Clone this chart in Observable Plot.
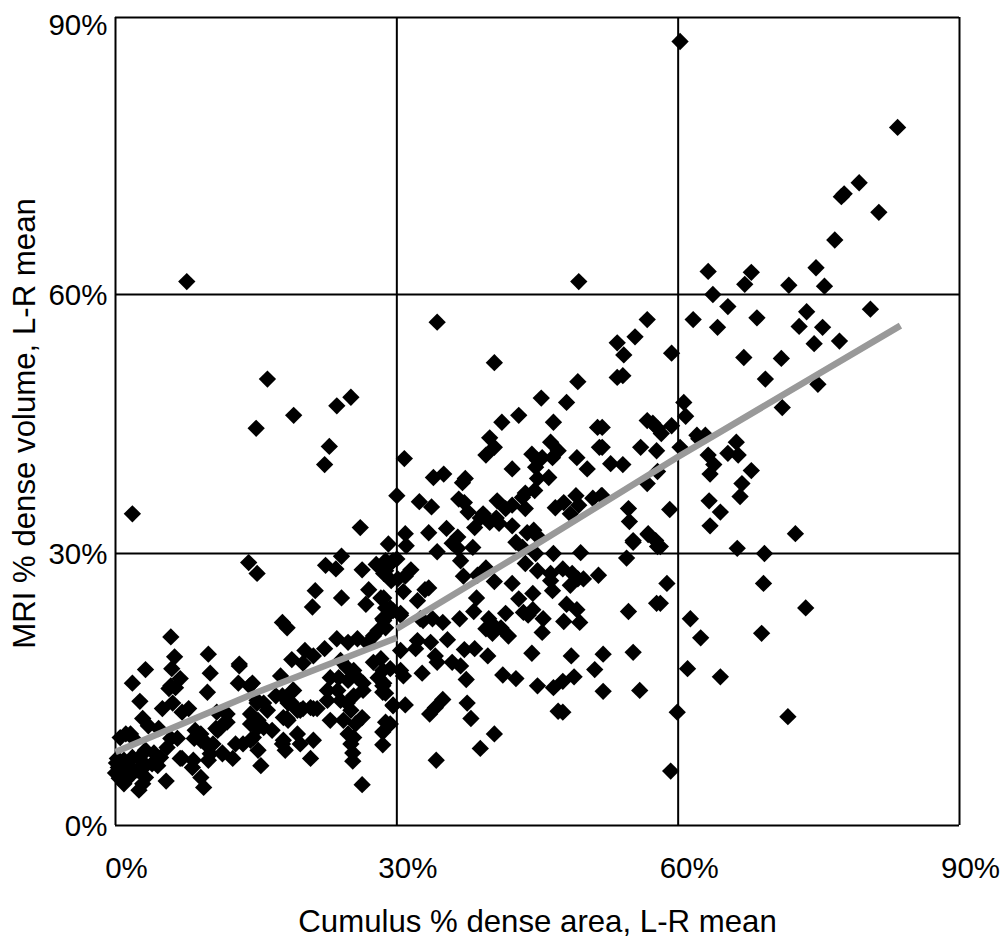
<!DOCTYPE html>
<html><head><meta charset="utf-8">
<script src="https://cdn.jsdelivr.net/npm/d3@7"></script>
<script src="https://cdn.jsdelivr.net/npm/@observablehq/plot@0.6"></script>
<style>html,body{margin:0;padding:0;background:#fff;overflow:hidden}svg{display:block}</style>
</head><body><div id="chart"></div>
<script>
const xTicks = [0, 30, 60, 90];
const yTicks = [0, 30, 60, 90];
const xTitle = "Cumulus % dense area, L-R mean";
const yTitle = "MRI % dense volume, L-R mean";
const trendCumulus = [0, 14.4, 30, 30, 43.3, 60, 83.7];
const trendMri = [8.1, 14.4, 20.7, 21.7, 30, 41.2, 56.4];
const trendPiece = ["below", "below", "below", "above", "above", "above", "above"];

const highPoints = [[60.2,87.4],[83.4,78.1],[7.6,61.4],[49.4,61.4],[77.4,70.6],[77.7,70.9],[79.3,72.1],[81.4,68.9],[76.7,65.9],
[63.2,62.5],[67.8,62.4],[67.1,61.1],[74.7,62.9],[71.8,61],[75.6,60.9],[63.7,60],[65.3,58.6],[73.7,58],[80.5,58.3],[56.7,57.1],[61.6,57.1],[68.4,57.3],[64.2,56.2],[72.9,56.3],[75.4,56.2],[55.4,55.1],[53.5,54.4],[54.2,53],[74.5,54.3],[77.2,54.6],[59.3,53.2],[67,52.7],[71,52.6],[53.5,50.4],[54.1,50.6],[69.3,50.2],[74.9,49.6],[71.1,46.9],[60.6,47.5],[60.8,45.9],[56.7,45.4],[57.3,45.1],[57.8,44.5],[58.2,43.9],[59.3,44.8],[62,43.7],[62.9,43.7],[62.2,43.3],[66.2,42.9],[65.3,41.6],[66.4,41.4],[60.2,42.3],[63.2,41.4],[63.8,40.3],[67.8,39.6],[63.4,39.2],[66.8,38.1],[66.6,36.6],[63.3,36.1],[64.5,34.8],[63.4,33.2],[72.5,32.3],[56,42.3],[57.7,41.9],[52.8,40.4],[54.1,40.3],[51.9,42.3],[51.9,44.6],[57.8,39.5],[56.7,38.1],[51.9,36.7],[54.7,35.2],[54.8,33.7],[59.1,35.1],[56.8,32.3],[57.6,31.5],[55.2,31.5],[66.3,30.6],[69.2,30],[58.1,30.8],
[34.3,56.8],[40.4,52.1],[49.3,49.9],[45.4,48],[48.1,47.5],[43,46],[41.2,45.2],[46.7,45.2],[51.4,44.6],[39.9,43.4],[40.4,42.3],[39.5,41.4],[46.4,42.9],[47.2,41.9],[46.6,41.1],[44.4,41.5],[45,40.8],[45.5,41.1],[44.8,40],[49.2,41.1],[51.6,42.3],[30.8,41],[42.3,39.8],[50.3,39.8],[16.2,50.2],[25.1,48.1],[23.6,47.1],[19,46],[15,44.5],[22.8,42.4],[22.3,40.3],[1.8,34.6],[26.1,33]];

const midPoints = [[33.9,38.8],[35,39.2],[37,38.2],[37.3,38.7],[46.2,38.8],[45,38.7],[44.7,37.3],[43.7,37],[43.4,36.5],[36.6,36.3],[37.2,35.9],[32.4,36],[33.7,35.4],[30,36.7],[40.7,36.1],[37.6,34.8],[42.3,35.6],[41.6,35.2],[43.7,35.2],[46.9,35.3],[47.8,35.9],[48.5,34.6],[49.1,36.7],[49.4,35.6],[50.9,36.4],[51.8,36.7],[39.2,34.6],[39.9,33.6],[38.9,34.1],[40.6,34.1],[40.9,33.5],[42.3,33.2],[38.3,33],[33.4,32.4],[35.3,32.9],[30.9,32.3],[31,30.9],[36.5,31.9],[35.9,31.2],[36.5,30.6],[34.3,30.2],[38.1,30.7],[44.6,32.7],[43.9,32.4],[45,32],[42.7,31.3],[43.4,30.7],[44.8,30],[46.7,30],[49.6,30.1],[55.2,31.3],[56.8,32.2],[57.8,30.8],[29.1,31.1],[24.1,29.7],
[36.8,29.2],[54.5,29.5],[30,29.4],[29.3,28.9],[31.5,28.2],[30.9,27.5],[39.5,28.4],[38.6,27.6],[37.1,27.5],[40.4,26.9],[42.3,26.7],[43.7,28.9],[45,28.1],[46.4,27.8],[46.4,27],[47.7,28.3],[48.7,27.8],[49.3,27.2],[49.9,27.2],[48.5,26.5],[51.5,27.6],[46.6,25.9],[33.4,26.2],[33,26],[30.7,25.8],[32.2,24.8],[57.7,24.5],[54.7,23.6],[38.5,25.1],[43,25],[44.5,25.6],[43.5,23.5],[44.5,23.8],[44,23.2],[48.1,24.4],[49.2,23.8],[47.8,22.5],[49.5,22.4],[45.6,22.8],[45.5,21.3],[38.2,23.6],[36.7,22.8],[39.8,22.8],[41.6,23.4],[39.5,21.7],[40.3,22.1],[41.1,21.8],[41.9,20.9],[40.2,21.2],[34.9,22.4],[33.8,22.8],[32.8,22.6],[32.5,22.8],[35.4,20.5],[33.6,20.2],[32.2,20.4],[32,19.5],[30.4,19.3],[34.1,18.7],[34.3,18],[37.2,19.4],[38.3,19.5],[39.7,18.7],[44.4,19],[48.6,18.7],[52,18.9],[55.2,19.1],[51.1,17.2],[35.9,18],[36.8,17.6],[32.7,16.8],[30.4,17.1],[30.7,16.5],[37.4,16.1],[41.3,16.6],[42.7,16.2],[45,15.4],[46.7,15.2],[47.7,15.9],[48.9,16.4],[52,14.8],[55.9,14.9],[34.9,13.9],[34.1,13],[33.5,12.3],[30.9,13.3],[29.6,13.2],[37.5,13.5],[37.9,11.8],[47.2,12.6],[47.7,12.5],[40.4,10.1],[38.9,8.5],[29.3,11.2],[34.2,7.2],
[58.8,26.7],[69.1,26.7],[73.6,24],[61.3,22.8],[62.4,20.7],[68.9,21.2],[61,17.3],[64.5,16.4],[59.9,12.5],[71.7,12],[59.2,6],[58.1,24.5],
[28.8,29.2],[28.6,27.8],[29.6,29.2],[28.6,25.1],[28.8,24],[29.3,23.5],[30.4,23.2],[28.5,22.8],[28.8,21.8],[29.3,17.3],[28.5,17.1],[28.6,15.7],[28.8,14.6],[29.6,23.7],[30.4,23.4],[29.3,24],[30.1,27.2],[29.4,27],[29.1,28.8],[28.8,28.1]];

const lowPoints = [[18.3,21.8],[17.8,22.4],[14.2,29],[15.1,27.8],[22.4,28.7],[23.5,28.3],[26.3,28.2],[27.8,28.8],[21.3,25.9],[21,24.1],[24.1,25.1],[27,26],[26.7,24.4],[28.3,25.1],[28.6,22.6],[28,21.5],[27.5,20.9],[5.9,20.8],[6.3,18.6],[3.2,17.2],[6,17.3],[1.8,15.7],[6.9,16.2],[6.4,15.2],[5.9,15.4],[2.6,13.7],[9.9,18.9],[10.1,16.8],[9.8,14.7],[13.2,17.8],[13.2,17.6],[13.1,15.7],[14.3,15.4],[17.6,16.5],[18.8,18.3],[20.2,19.3],[22.3,19.5],[21.1,18.7],[20,17.9],[23.6,20.6],[24.8,20.2],[25.8,20.6],[26.9,20.1],[6.1,13.5],[5,12.9],[7.8,12.9],[7.1,12.5],[10.8,12.5],[11.9,12.3],[11.5,11.2],[10.7,10.7],[14.4,12.3],[15.8,13.5],[15.1,13.5],[16.2,12.7],[14.4,11.2],[15.2,10.8],[18.4,13.5],[18.3,11.8],[18.9,14.9],[17.8,14.3],[19.7,12.7],[20.8,13],[21.5,12.9],[2.9,11.8],[3.5,11],[1.6,10.1],[1.1,10.1],[8.5,10.5],[9.1,9.4],[9.8,9],[11.4,7.9],[12.5,7.4],[6.9,7.4],[8.3,7.2],[9.9,7.2],[17.9,9.4],[18.1,8.3],[19.7,9],[21.1,9.4],[20.8,7.4],[15.5,6.6],[25.3,7.1],[26.3,4.5],[9.4,4.2],[5.4,4.9],[2.5,3.9],[2.9,4.6],[28.8,11.4],[28.5,10.3],[28.5,8.9],[29.6,13.3],[27.5,18],[28.3,18.4],[28,16.3],[28.5,15.4],[28.5,14.7],
[24.7,17.4],[25.4,17.1],[24,18.2],[22.9,16.3],[23.8,16.3],[24.8,16],[25.8,16.3],[26.4,15.7],[22.6,14.9],[23.7,14.9],[26.4,14.9],[25.4,14.3],[22.6,13.8],[24,13.8],[24.7,13.5],[25.1,12.7],[26.3,11.9],[25.6,11.2],[24.3,11.6],[22.9,11.6],[24.8,10.1],[25.4,9.7],[25.1,9],[25.3,8],
[20,12.9],[21.1,12.9],[19.4,12.7],[18.7,13.6],[17.9,11.9],[18.4,11.6],[16.7,10.5],[19.4,10.1],[17.8,9],[15.2,11.6],[15.8,10.8],[14.7,9.7],[15.2,8.3],[15.1,13.8],[19,14.9],[17.1,14.3],[14.6,15.7],[5.7,15.1],
[4.6,10.7],[1.8,9.7],[0.5,9.7],[9.1,10.1],[8.4,9.6],[11.2,10.8],[11.9,11.4],[10.9,10.5],[6.6,9.6],[5.5,8.6],[5.9,9.6],[4.1,8],[4.8,7.5],[3.2,8.3],[2.7,7.7],[3.9,6.8],[4.5,6.6],[7.1,7.4],[8.2,6.4],[9.1,5.3],[10.1,7.9],[11.4,8],[12.8,9],[13.6,9],[14.4,9.4],[9.6,9],[10.4,9],
[0.2,7.4],[0.3,6.4],[0.5,5.5],[1.1,5],[1.6,6.4],[0.9,7.2],[1.8,7.5],[2.3,6.1],[3,6.4],[0,5.8],[0.7,6.1],[1.4,5.3],[3.2,5.3],[2.7,7.2],[0.1,6.9],[0.4,5.2],[0.9,4.6],[1.2,5.9],[0.6,6.7]];

const points = [...highPoints, ...midPoints, ...lowPoints];
const font = "Liberation Sans, Arial, sans-serif";
const pct = d => d + "%";

const chart = Plot.plot({
  width: 1004, height: 945,
  marginLeft: 115, marginRight: 45, marginTop: 17, marginBottom: 120,
  style: {background: "#fff", fontFamily: font},
  x: {type: "linear", domain: [0, 90], label: null},
  y: {type: "linear", domain: [0, 30, 60, 90], range: [825, 553, 294, 17], label: null},
  marks: [
    Plot.ruleX(xTicks, {stroke: "#000", strokeWidth: 2}),
    Plot.ruleY(yTicks, {stroke: "#000", strokeWidth: 2}),
    Plot.dot(points, {x: d => d[0], y: d => d[1], symbol: "diamond2", r: 7.8, fill: "#000", stroke: "none"}),
    Plot.line(trendCumulus.map((c, i) => [c, trendMri[i], trendPiece[i]]), {x: d => d[0], y: d => d[1], z: d => d[2], stroke: "#999", strokeWidth: 6.5, strokeLinecap: "butt", strokeLinejoin: "round"}),
    Plot.axisX(xTicks, {tickSize: 0, tickPadding: 32, dx: 11, tickFormat: pct, fontSize: 29.5, fill: "#000", label: null}),
    Plot.axisY([0, 30, 60], {tickSize: 0, tickPadding: 8, dy: 1, tickFormat: pct, fontSize: 29.5, fill: "#000", label: null}),
    Plot.axisY([90], {tickSize: 0, tickPadding: 8, dy: 8, tickFormat: pct, fontSize: 29.5, fill: "#000", label: null}),
    Plot.text([xTitle], {frameAnchor: "bottom", dy: 97, fontSize: 31.2, fill: "#000", lineAnchor: "middle"}),
    Plot.text([yTitle], {frameAnchor: "left", textAnchor: "middle", dx: -90, dy: 2, rotate: -90, fontSize: 31.2, fill: "#000", lineAnchor: "middle"})
  ]
});
document.getElementById("chart").append(chart);
</script></body></html>
